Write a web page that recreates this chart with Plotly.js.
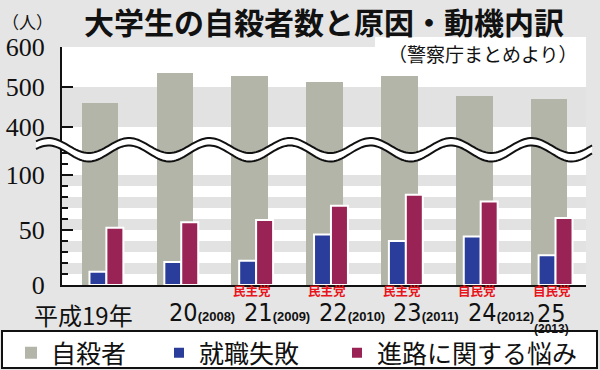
<!DOCTYPE html>
<html><head><meta charset="utf-8">
<script src="https://cdn.plot.ly/plotly-3.0.1.min.js"></script>
<style>html,body{margin:0;padding:0;background:#e5e5e5}#chart{width:600px;height:370px}</style>
</head><body><div id="chart"></div>
<script>
// ---- data ----
const years = ['平成19年', '20', '21', '22', '23', '24', '25'];
const westernYears = ['', '(2008)', '(2009)', '(2010)', '(2011)', '(2012)', '(2013)'];
const rulingParty = ['', '', '民主党', '民主党', '民主党', '自民党', '自民党'];
const seriesNames = ['自殺者', '就職失敗', '進路に関する悩み'];
const suicides = [461, 536, 528, 513, 527, 478, 469];
const jobFailure = [12, 21, 22, 46, 40, 44, 27];
const careerWorry = [52, 57, 59, 72, 82, 76, 61];
const lowerTicks = [0, 50, 100];
const upperTicks = [400, 500, 600];

// ---- style ----
const GRAY = '#b3b5a8', BLUE = '#2a3d9b', MAROON = '#9a2356', RED = '#e8141c', INK = '#111';
const BG = '#e5e5e5', STRIPE = '#e2e2e2';
const CJK = 'Noto Sans CJK JP';
const SERIF = "'Liberation Serif','DejaVu Serif','Times New Roman',serif";
const NARROW = "'Liberation Sans Narrow','DejaVu Sans Condensed',sans-serif";
const W = 600, H = 370, L = 62, R = 14, T = 47, B = 85;
const PW = W - L - R, PH = H - T - B;
const px = x => (x - L) / PW;          // pixel -> paper x
const py = y => (H - B - y) / PH;      // pixel -> paper y
const split = py(150);                  // junction of the broken axis
const lowerRange = [0, (H - B - 150) / 1.1];
const upperRange = [600 - (150 - T) / 0.4, 600];
const idx = years.map((_, i) => i);

const traces = [
  {type: 'bar', x: years, y: suicides, name: seriesNames[0], xaxis: 'x', yaxis: 'y',
   marker: {color: GRAY}, width: 0.488, offset: -0.237, legend: 'legend', hoverinfo: 'y'},
  {type: 'bar', x: years, y: suicides, name: seriesNames[0], xaxis: 'x', yaxis: 'y2',
   marker: {color: GRAY}, width: 0.488, offset: -0.237, showlegend: false, hoverinfo: 'y'},
  {type: 'bar', x: years, y: jobFailure, name: seriesNames[1], xaxis: 'x', yaxis: 'y',
   marker: {color: BLUE, line: {color: '#fff', width: 2}}, width: 0.227, offset: -0.133,
   legend: 'legend2', hoverinfo: 'y'},
  {type: 'bar', x: years, y: careerWorry, name: seriesNames[2], xaxis: 'x', yaxis: 'y',
   marker: {color: MAROON, line: {color: '#fff', width: 2}}, width: 0.227, offset: 0.093,
   legend: 'legend3', hoverinfo: 'y'}
];

// background stripes
const shapes = [];
for (let v = 10; v < 100; v += 20) {
  shapes.push({type: 'rect', xref: 'paper', yref: 'y', x0: 0, x1: 1, y0: v, y1: v + 10,
               fillcolor: STRIPE, line: {width: 0}, layer: 'below'});
}
shapes.push({type: 'rect', xref: 'paper', yref: 'y2', x0: 0, x1: 1, y0: 400, y1: 500,
             fillcolor: STRIPE, line: {width: 0}, layer: 'below'});
// white box behind subtitle
shapes.push({type: 'rect', xref: 'paper', yref: 'paper', x0: px(375), x1: 1, y0: 1, y1: py(37),
             fillcolor: '#fff', line: {width: 0}, layer: 'below'});

// wavy axis break
function wave(c, A) {
  const pts = [];
  for (let x = 36; x <= 592; x += 2) {
    const y = c - A * Math.cos(2 * Math.PI * (x - 129) / 80.5);
    pts.push([px(x), py(y)]);
  }
  return pts;
}
const up = wave(145.5, 7.5), lo = wave(153.5, 8);
const band = 'M' + up.map(p => p.join(',')).join('L') + 'L' +
             lo.slice().reverse().map(p => p.join(',')).join('L') + 'Z';
shapes.push({type: 'path', xref: 'paper', yref: 'paper', path: band, fillcolor: '#fff',
             line: {width: 0}, layer: 'above'});
[up, lo].forEach(pts => shapes.push({type: 'path', xref: 'paper', yref: 'paper',
  path: 'M' + pts.map(p => p.join(',')).join('L'), line: {color: INK, width: 2},
  fillcolor: 'rgba(0,0,0,0)', layer: 'above'}));
// legend box
shapes.push({type: 'rect', xref: 'paper', yref: 'paper', x0: px(2), x1: px(597), y0: py(368), y1: py(331),
             fillcolor: '#fff', line: {color: INK, width: 2}, layer: 'above'});

// annotations
const annotations = [
  {xref: 'paper', yref: 'paper', x: px(27), y: py(22), text: '（人）', showarrow: false,
   font: {family: CJK, size: 17, color: INK}, xanchor: 'center', yanchor: 'middle'},
  {xref: 'paper', yref: 'paper', x: px(483), y: py(53), text: '（警察庁まとめより）', showarrow: false,
   font: {family: CJK, size: 19, color: INK}, xanchor: 'center', yanchor: 'middle'},
  {xref: 'x', yref: 'paper', x: 0, y: 0, xshift: -15.5, yshift: -29, text: years[0],
   showarrow: false, font: {family: CJK, size: 24, color: INK}, xanchor: 'center', yanchor: 'middle'}
];
const smallStyle = "font-family:'Liberation Sans',Arial,sans-serif;font-size:13px;font-weight:bold";
const tinyStyle = "font-family:'Liberation Sans',Arial,sans-serif;font-size:12px;font-weight:bold";
const bigStyle = "font-family:'Liberation Sans Narrow','DejaVu Sans Condensed',sans-serif;font-size:25px";
for (let i = 1; i < years.length; i++) {
  const last = i === years.length - 1;
  if (last) {
    // number with the western year stacked below it
    annotations.push({xref: 'x', yref: 'paper', x: idx[i], y: 0, xshift: 3, yshift: -32,
      text: `<span style="${bigStyle}">${years[i]}</span><br><span style="${tinyStyle}">${westernYears[i]}</span>`,
      showarrow: false, xanchor: 'center', yanchor: 'middle', align: 'center',
      font: {family: NARROW, size: 8.5, color: INK}});
  } else {
    annotations.push({xref: 'x', yref: 'paper', x: idx[i], y: 0, xshift: -7.5, yshift: -27,
      text: years[i] + `<span style="${smallStyle}">${westernYears[i]}</span>`,
      showarrow: false, xanchor: 'left', yanchor: 'middle',
      font: {family: NARROW, size: 25, color: INK}});
  }
  if (rulingParty[i]) {
    annotations.push({xref: 'x', yref: 'paper', x: idx[i], y: 0, xshift: 3, yshift: -5.5,
      text: rulingParty[i], showarrow: false, xanchor: 'center', yanchor: 'middle',
      font: {family: CJK, size: 12.5, color: RED, weight: 700}});
  }
}

const axisY = {showline: true, linecolor: INK, linewidth: 2, ticks: 'inside', ticklen: 11,
  tickwidth: 2, tickcolor: INK, showgrid: false, zeroline: false, fixedrange: true,
  tickfont: {family: SERIF, size: 26, color: INK}, ticklabelstandoff: 10};
const legendBase = {orientation: 'h', yanchor: 'middle', y: py(353), xanchor: 'left',
  bgcolor: 'rgba(0,0,0,0)', borderwidth: 0, font: {family: CJK, size: 25, color: INK}};

const layout = {
  width: W, height: H, margin: {l: L, r: R, t: T, b: B, autoexpand: false},
  paper_bgcolor: BG, plot_bgcolor: '#fff',
  barmode: 'overlay', bargap: 0,
  title: {text: '大学生の自殺者数と原因・動機内訳', x: 324 / W, xanchor: 'center',
          y: 1 - 23 / H, yanchor: 'middle',
          font: {family: CJK, size: 30, color: INK, weight: 700}},
  xaxis: {type: 'category', range: [-0.5, 6.5], showline: true, linecolor: INK, linewidth: 2,
          ticks: '', showticklabels: false, showgrid: false, zeroline: false, fixedrange: true,
          anchor: 'y'},
  yaxis: Object.assign({}, axisY, {domain: [0, split], range: lowerRange, tickvals: lowerTicks,
          minor: {dtick: 10, ticks: 'inside', ticklen: 6, tickwidth: 2, tickcolor: INK, showgrid: false},
          anchor: 'x'}),
  yaxis2: Object.assign({}, axisY, {domain: [split, 1], range: upperRange, tickvals: upperTicks,
          anchor: 'x'}),
  legend: Object.assign({}, legendBase, {x: px(11)}),
  legend2: Object.assign({}, legendBase, {x: px(159)}),
  legend3: Object.assign({}, legendBase, {x: px(337)}),
  shapes: shapes,
  annotations: annotations
};

Plotly.newPlot('chart', traces, layout, {displayModeBar: false, staticPlot: true});
</script>
</body></html>
